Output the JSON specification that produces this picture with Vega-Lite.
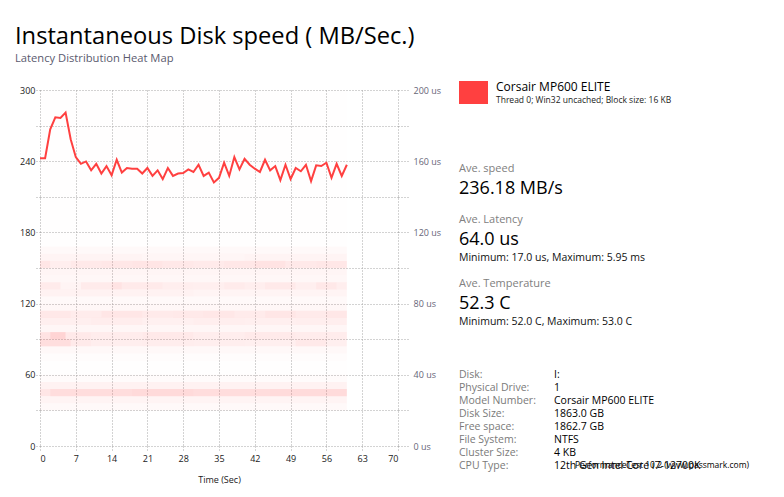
{
  "$schema": "https://vega.github.io/schema/vega-lite/v6.json",
  "background": "white",
  "padding": {"left": 15, "top": 25, "right": 5, "bottom": 5},
  "spacing": 1,
  "title": {
    "text": "Instantaneous Disk speed ( MB/Sec.)",
    "subtitle": "Latency Distribution Heat Map",
    "anchor": "start",
    "frame": "bounds",
    "font": "Open Sans",
    "fontSize": 23.7,
    "fontWeight": "normal",
    "color": "#000000",
    "subtitleFont": "Open Sans",
    "subtitleFontSize": 11.2,
    "subtitleColor": "#5a5a6e",
    "subtitlePadding": 4,
    "offset": 17
  },
  "config": {
    "view": {"stroke": null},
    "axis": {
      "labelFont": "Open Sans",
      "labelFontSize": 9,
      "labelColor": "#222222",
      "labelOverlap": false,
      "gridColor": "#a6a6a6",
      "gridDash": [1, 2],
      "tickColor": "#a6a6a6",
      "tickDash": [1, 2],
      "domain": false,
      "titleFont": "Open Sans",
      "titleFontSize": 9,
      "titleFontWeight": "normal",
      "titleColor": "#222222"
    }
  },
  "datasets": {
    "speed": [
      {"t": 0, "v": 242.5}, {"t": 1, "v": 242.5}, {"t": 2, "v": 266.9}, {"t": 3, "v": 277.0}, {"t": 4, "v": 276.5},
      {"t": 5, "v": 281.0}, {"t": 6, "v": 258.5}, {"t": 7, "v": 243.4}, {"t": 8, "v": 237.8}, {"t": 9, "v": 239.8},
      {"t": 10, "v": 232.3}, {"t": 11, "v": 237.8}, {"t": 12, "v": 229.6}, {"t": 13, "v": 235.9}, {"t": 14, "v": 228.2},
      {"t": 15, "v": 241.2}, {"t": 16, "v": 230.4}, {"t": 17, "v": 234.3}, {"t": 18, "v": 233.7}, {"t": 19, "v": 233.7},
      {"t": 20, "v": 229.6}, {"t": 21, "v": 234.3}, {"t": 22, "v": 227.6}, {"t": 23, "v": 232.3}, {"t": 24, "v": 224.9},
      {"t": 25, "v": 234.3}, {"t": 26, "v": 227.6}, {"t": 27, "v": 229.6}, {"t": 28, "v": 230.1}, {"t": 29, "v": 233.1},
      {"t": 30, "v": 230.9}, {"t": 31, "v": 237.0}, {"t": 32, "v": 227.6}, {"t": 33, "v": 230.4}, {"t": 34, "v": 222.1},
      {"t": 35, "v": 226.0}, {"t": 36, "v": 238.7}, {"t": 37, "v": 227.6}, {"t": 38, "v": 243.4}, {"t": 39, "v": 233.1},
      {"t": 40, "v": 242.0}, {"t": 41, "v": 237.0}, {"t": 42, "v": 233.7}, {"t": 43, "v": 230.9}, {"t": 44, "v": 241.2},
      {"t": 45, "v": 232.3}, {"t": 46, "v": 235.9}, {"t": 47, "v": 224.0}, {"t": 48, "v": 237.0}, {"t": 49, "v": 224.9},
      {"t": 50, "v": 234.3}, {"t": 51, "v": 231.5}, {"t": 52, "v": 237.0}, {"t": 53, "v": 223.2}, {"t": 54, "v": 236.5},
      {"t": 55, "v": 235.9}, {"t": 56, "v": 238.7}, {"t": 57, "v": 226.0}, {"t": 58, "v": 237.8}, {"t": 59, "v": 227.6},
      {"t": 60, "v": 237.0}
    ],
    "heat": [
      {"t": 0, "t2": 60, "l": 112, "l2": 200, "p": 0.25},
      {"t": 0, "t2": 60, "l": 108, "l2": 112, "p": 1.0},
      {"t": 0, "t2": 20, "l": 104, "l2": 108, "p": 2.0},
      {"t": 20, "t2": 40, "l": 104, "l2": 108, "p": 1.6},
      {"t": 40, "t2": 60, "l": 104, "l2": 108, "p": 2.0},
      {"t": 0, "t2": 2, "l": 100, "l2": 104, "p": 4.5},
      {"t": 2, "t2": 6, "l": 100, "l2": 104, "p": 3.0},
      {"t": 6, "t2": 12, "l": 100, "l2": 104, "p": 3.8},
      {"t": 12, "t2": 18, "l": 100, "l2": 104, "p": 4.2},
      {"t": 18, "t2": 24, "l": 100, "l2": 104, "p": 4.6},
      {"t": 24, "t2": 30, "l": 100, "l2": 104, "p": 4.0},
      {"t": 30, "t2": 36, "l": 100, "l2": 104, "p": 3.6},
      {"t": 36, "t2": 42, "l": 100, "l2": 104, "p": 4.2},
      {"t": 42, "t2": 48, "l": 100, "l2": 104, "p": 4.8},
      {"t": 48, "t2": 54, "l": 100, "l2": 104, "p": 3.8},
      {"t": 54, "t2": 60, "l": 100, "l2": 104, "p": 4.2},
      {"t": 0, "t2": 60, "l": 96, "l2": 100, "p": 1.8},
      {"t": 0, "t2": 60, "l": 92, "l2": 96, "p": 1.4},
      {"t": 0, "t2": 4, "l": 88, "l2": 92, "p": 3.5},
      {"t": 4, "t2": 8, "l": 88, "l2": 92, "p": 2.0},
      {"t": 8, "t2": 14, "l": 88, "l2": 92, "p": 3.5},
      {"t": 14, "t2": 16, "l": 88, "l2": 92, "p": 4.8},
      {"t": 16, "t2": 24, "l": 88, "l2": 92, "p": 3.6},
      {"t": 24, "t2": 30, "l": 88, "l2": 92, "p": 3.0},
      {"t": 30, "t2": 36, "l": 88, "l2": 92, "p": 2.8},
      {"t": 36, "t2": 40, "l": 88, "l2": 92, "p": 3.5},
      {"t": 40, "t2": 44, "l": 88, "l2": 92, "p": 3.0},
      {"t": 44, "t2": 50, "l": 88, "l2": 92, "p": 3.8},
      {"t": 50, "t2": 54, "l": 88, "l2": 92, "p": 2.8},
      {"t": 54, "t2": 58, "l": 88, "l2": 92, "p": 4.0},
      {"t": 58, "t2": 60, "l": 88, "l2": 92, "p": 3.0},
      {"t": 0, "t2": 30, "l": 84, "l2": 88, "p": 2.2},
      {"t": 30, "t2": 60, "l": 84, "l2": 88, "p": 2.0},
      {"t": 0, "t2": 60, "l": 80, "l2": 84, "p": 1.0},
      {"t": 0, "t2": 60, "l": 76, "l2": 80, "p": 1.5},
      {"t": 0, "t2": 6, "l": 72, "l2": 76, "p": 4.0},
      {"t": 6, "t2": 12, "l": 72, "l2": 76, "p": 3.4},
      {"t": 12, "t2": 20, "l": 72, "l2": 76, "p": 4.3},
      {"t": 20, "t2": 26, "l": 72, "l2": 76, "p": 3.6},
      {"t": 26, "t2": 32, "l": 72, "l2": 76, "p": 3.8},
      {"t": 32, "t2": 38, "l": 72, "l2": 76, "p": 4.2},
      {"t": 38, "t2": 44, "l": 72, "l2": 76, "p": 3.5},
      {"t": 44, "t2": 50, "l": 72, "l2": 76, "p": 4.5},
      {"t": 50, "t2": 56, "l": 72, "l2": 76, "p": 3.6},
      {"t": 56, "t2": 60, "l": 72, "l2": 76, "p": 4.2},
      {"t": 0, "t2": 10, "l": 68, "l2": 72, "p": 2.8},
      {"t": 10, "t2": 20, "l": 68, "l2": 72, "p": 3.2},
      {"t": 20, "t2": 30, "l": 68, "l2": 72, "p": 2.6},
      {"t": 30, "t2": 40, "l": 68, "l2": 72, "p": 3.0},
      {"t": 40, "t2": 50, "l": 68, "l2": 72, "p": 2.8},
      {"t": 50, "t2": 60, "l": 68, "l2": 72, "p": 3.0},
      {"t": 0, "t2": 60, "l": 64, "l2": 68, "p": 1.6},
      {"t": 0, "t2": 2, "l": 60, "l2": 64, "p": 5.0},
      {"t": 2, "t2": 5, "l": 60, "l2": 64, "p": 7.5},
      {"t": 5, "t2": 10, "l": 60, "l2": 64, "p": 3.8},
      {"t": 10, "t2": 20, "l": 60, "l2": 64, "p": 3.4},
      {"t": 20, "t2": 30, "l": 60, "l2": 64, "p": 3.8},
      {"t": 30, "t2": 40, "l": 60, "l2": 64, "p": 3.2},
      {"t": 40, "t2": 50, "l": 60, "l2": 64, "p": 3.6},
      {"t": 50, "t2": 60, "l": 60, "l2": 64, "p": 3.4},
      {"t": 0, "t2": 6, "l": 56, "l2": 60, "p": 5.8},
      {"t": 6, "t2": 10, "l": 56, "l2": 60, "p": 3.6},
      {"t": 10, "t2": 20, "l": 56, "l2": 60, "p": 3.0},
      {"t": 20, "t2": 30, "l": 56, "l2": 60, "p": 3.2},
      {"t": 30, "t2": 40, "l": 56, "l2": 60, "p": 3.0},
      {"t": 40, "t2": 50, "l": 56, "l2": 60, "p": 2.8},
      {"t": 50, "t2": 56, "l": 56, "l2": 60, "p": 3.8},
      {"t": 56, "t2": 60, "l": 56, "l2": 60, "p": 2.8},
      {"t": 0, "t2": 60, "l": 52, "l2": 56, "p": 1.2},
      {"t": 0, "t2": 60, "l": 48, "l2": 52, "p": 0.5},
      {"t": 0, "t2": 60, "l": 40, "l2": 48, "p": 0.3},
      {"t": 0, "t2": 60, "l": 36, "l2": 40, "p": 0.8},
      {"t": 0, "t2": 60, "l": 32, "l2": 36, "p": 2.2},
      {"t": 0, "t2": 2, "l": 28, "l2": 32, "p": 4.5},
      {"t": 2, "t2": 18, "l": 28, "l2": 32, "p": 6.0},
      {"t": 18, "t2": 30, "l": 28, "l2": 32, "p": 6.5},
      {"t": 30, "t2": 45, "l": 28, "l2": 32, "p": 6.0},
      {"t": 45, "t2": 60, "l": 28, "l2": 32, "p": 6.3},
      {"t": 0, "t2": 60, "l": 24, "l2": 28, "p": 2.0},
      {"t": 0, "t2": 60, "l": 20, "l2": 24, "p": 1.0}
    ],
    "info": [
      {"kind": "swatch", "text": "", "col": 17, "col2": 46, "row": -9, "row2": 14},
      {"kind": "name", "text": "Corsair MP600 ELITE", "col": 54, "row": -3},
      {"kind": "sub", "text": "Thread 0; Win32 uncached; Block size: 16 KB", "col": 54, "row": 10},
      {"kind": "head", "text": "Ave. speed", "col": 17, "row": 79},
      {"kind": "big", "text": "236.18 MB/s", "col": 17, "row": 99},
      {"kind": "head", "text": "Ave. Latency", "col": 17, "row": 130},
      {"kind": "big", "text": "64.0 us", "col": 17, "row": 150},
      {"kind": "detail", "text": "Minimum: 17.0 us, Maximum: 5.95 ms", "col": 17, "row": 168},
      {"kind": "head", "text": "Ave. Temperature", "col": 17, "row": 194},
      {"kind": "big", "text": "52.3 C", "col": 17, "row": 214},
      {"kind": "detail", "text": "Minimum: 52.0 C, Maximum: 53.0 C", "col": 17, "row": 232},
      {"kind": "key", "text": "Disk:", "col": 17, "row": 285},
      {"kind": "key", "text": "Physical Drive:", "col": 17, "row": 298},
      {"kind": "key", "text": "Model Number:", "col": 17, "row": 311},
      {"kind": "key", "text": "Disk Size:", "col": 17, "row": 324},
      {"kind": "key", "text": "Free space:", "col": 17, "row": 337},
      {"kind": "key", "text": "File System:", "col": 17, "row": 350},
      {"kind": "key", "text": "Cluster Size:", "col": 17, "row": 363},
      {"kind": "key", "text": "CPU Type:", "col": 17, "row": 376},
      {"kind": "val", "text": "I:", "col": 112, "row": 285},
      {"kind": "val", "text": "1", "col": 112, "row": 298},
      {"kind": "val", "text": "Corsair MP600 ELITE", "col": 112, "row": 311},
      {"kind": "val", "text": "1863.0 GB", "col": 112, "row": 324},
      {"kind": "val", "text": "1862.7 GB", "col": 112, "row": 337},
      {"kind": "val", "text": "NTFS", "col": 112, "row": 350},
      {"kind": "val", "text": "4 KB", "col": 112, "row": 363},
      {"kind": "val", "text": "12th Gen Intel Core i7-12700K", "col": 112, "row": 376},
      {"kind": "credit", "text": "PerformanceTest 10.2 (www.passmark.com)", "col": 133, "row": 375}
    ]
  },
  "hconcat": [
    {
      "width": 358,
      "height": 356,
      "layer": [
        {
          "data": {"name": "heat"},
          "mark": {"type": "rect", "fill": "#FF4040"},
          "encoding": {
            "x": {
              "field": "t", "type": "quantitative",
              "scale": {"domain": [0, 70], "nice": false},
              "axis": {"values": [0, 7, 14, 21, 28, 35, 42, 49, 56, 63, 70], "labelOverlap": false, "grid": true, "tickSize": 4, "labelPadding": 4, "title": "Time (Sec)", "titlePadding": 12}
            },
            "x2": {"field": "t2"},
            "y": {
              "field": "l", "type": "quantitative",
              "scale": {"domain": [0, 200], "nice": false},
              "axis": {"orient": "right", "values": [0, 20, 40, 60, 80, 100, 120, 140, 160, 180, 200], "labelExpr": "datum.value % 40 == 0 ? datum.value + ' us' : ''", "labelOverlap": false, "grid": false, "tickSize": 10, "labelPadding": 5, "labelColor": "#666677", "title": null}
            },
            "y2": {"field": "l2"},
            "opacity": {"field": "p", "type": "quantitative", "scale": {"domain": [0, 10], "range": [0, 0.3]}, "legend": null}
          }
        },
        {
          "data": {"name": "speed"},
          "mark": {"type": "line", "color": "#FF4040", "strokeWidth": 2},
          "encoding": {
            "x": {"field": "t", "type": "quantitative", "axis": {"values": [0, 7, 14, 21, 28, 35, 42, 49, 56, 63, 70], "labelOverlap": false, "grid": true, "tickSize": 4, "labelPadding": 4, "title": "Time (Sec)", "titlePadding": 12}},
            "y": {
              "field": "v", "type": "quantitative",
              "scale": {"domain": [0, 300], "nice": false},
              "axis": {"orient": "left", "values": [0, 30, 60, 90, 120, 150, 180, 210, 240, 270, 300], "labelExpr": "datum.value % 60 == 0 ? datum.label : ''", "labelOverlap": false, "grid": true, "tickSize": 5, "labelPadding": 0, "minExtent": 25, "title": null}
            }
          }
        }
      ],
      "resolve": {"scale": {"y": "independent"}}
    },
    {
      "width": 340,
      "height": 390,
      "data": {"name": "info"},
      "encoding": {
        "x": {"field": "col", "type": "quantitative", "scale": {"domain": [0, 340], "nice": false, "zero": false}, "axis": null},
        "y": {"field": "row", "type": "quantitative", "scale": {"domain": [0, 390], "nice": false, "zero": false, "reverse": true}, "axis": null}
      },
      "layer": [
        {"transform": [{"filter": "datum.kind == 'swatch'"}], "mark": {"type": "rect", "fill": "#FF4040"}, "encoding": {"x2": {"field": "col2"}, "y2": {"field": "row2"}}},
        {"transform": [{"filter": "datum.kind == 'name'"}], "mark": {"type": "text", "align": "left", "baseline": "middle", "font": "Open Sans", "fontSize": 12, "color": "#000000"}, "encoding": {"text": {"field": "text"}}},
        {"transform": [{"filter": "datum.kind == 'sub'"}], "mark": {"type": "text", "align": "left", "baseline": "middle", "font": "Open Sans", "fontSize": 8.5, "color": "#222222"}, "encoding": {"text": {"field": "text"}}},
        {"transform": [{"filter": "datum.kind == 'head'"}], "mark": {"type": "text", "align": "left", "baseline": "middle", "font": "Open Sans", "fontSize": 11, "color": "#808080"}, "encoding": {"text": {"field": "text"}}},
        {"transform": [{"filter": "datum.kind == 'big'"}], "mark": {"type": "text", "align": "left", "baseline": "middle", "font": "Open Sans", "fontSize": 18, "color": "#000000"}, "encoding": {"text": {"field": "text"}}},
        {"transform": [{"filter": "datum.kind == 'detail'"}], "mark": {"type": "text", "align": "left", "baseline": "middle", "font": "Open Sans", "fontSize": 10.5, "color": "#111111"}, "encoding": {"text": {"field": "text"}}},
        {"transform": [{"filter": "datum.kind == 'key'"}], "mark": {"type": "text", "align": "left", "baseline": "middle", "font": "Open Sans", "fontSize": 10.5, "color": "#7a7a7a"}, "encoding": {"text": {"field": "text"}}},
        {"transform": [{"filter": "datum.kind == 'val'"}], "mark": {"type": "text", "align": "left", "baseline": "middle", "font": "Open Sans", "fontSize": 10.5, "color": "#000000"}, "encoding": {"text": {"field": "text"}}},
        {"transform": [{"filter": "datum.kind == 'credit'"}], "mark": {"type": "text", "align": "left", "baseline": "middle", "font": "Open Sans", "fontSize": 8.5, "color": "#000000"}, "encoding": {"text": {"field": "text"}}}
      ]
    }
  ]
}
